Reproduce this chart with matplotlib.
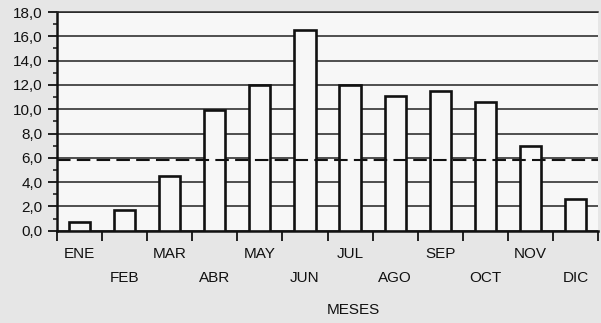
import matplotlib
matplotlib.use("Agg")
import matplotlib.pyplot as plt
from matplotlib.ticker import FixedLocator, MultipleLocator, FuncFormatter

months = ["ENE", "FEB", "MAR", "ABR", "MAY", "JUN", "JUL", "AGO", "SEP", "OCT", "NOV", "DIC"]
values = [0.7, 1.7, 4.5, 9.9, 12.0, 16.5, 12.0, 11.1, 11.5, 10.6, 7.0, 2.6]
reference_level = 5.8
y_ticks = [0, 2, 4, 6, 8, 10, 12, 14, 16, 18]
x_label = "MESES"

plt.rcParams['font.family'] = ['Liberation Sans', 'DejaVu Sans']

fig = plt.figure(figsize=(6.01, 3.23), dpi=100, facecolor='#e6e6e6')
ax = fig.add_axes([57/601, 92.3/323, 541/601, 218.7/323])
ax.set_facecolor('#f7f7f7')

x = list(range(len(months)))
ax.bar(x, values, width=0.47, color='#f7f7f7', edgecolor='#111111', linewidth=1.9, zorder=3)
ax.axhline(reference_level, color='#111111', linewidth=1.5, dashes=(6.5, 3), zorder=4)

ax.set_xlim(-0.5, len(months) - 0.5)
ax.set_ylim(0, 18)

# y axis
ax.yaxis.set_major_locator(FixedLocator(y_ticks))
ax.yaxis.set_minor_locator(MultipleLocator(1))
ax.yaxis.set_major_formatter(FuncFormatter(lambda v, p: f"{v:.1f}".replace('.', ',')))
ax.tick_params(axis='y', which='major', length=6.5, width=1.3, pad=4, labelsize=11, colors='#111111')
ax.tick_params(axis='y', which='minor', length=3, width=1.1, colors='#111111')
ax.grid(axis='y', which='major', color='#222222', linewidth=1.1, zorder=1)

# x axis: boundary ticks (major), labels at centers (minor)
ax.xaxis.set_major_locator(FixedLocator([i - 0.5 for i in range(len(months) + 1)]))
ax.xaxis.set_major_formatter(FuncFormatter(lambda v, p: ""))
ax.xaxis.set_minor_locator(FixedLocator(x))
ax.set_xticklabels(months, minor=True)
ax.tick_params(axis='x', which='major', length=7.5, width=1.3, colors='#111111')
ax.tick_params(axis='x', which='minor', length=0, labelsize=11, colors='#111111')
for i, t in enumerate(ax.xaxis.get_minor_ticks()):
    t.set_pad(12 if i % 2 == 0 else 29)

ax.set_xlabel(x_label, fontsize=11, color='#111111')
ax.xaxis.set_label_coords(0.547, -0.363)
ax.xaxis.label.set_va('center')

for s in ['left', 'bottom']:
    ax.spines[s].set_linewidth(1.8)
    ax.spines[s].set_color('#111111')
ax.spines['top'].set_linewidth(1.1)
ax.spines['top'].set_color('#222222')
ax.spines['right'].set_visible(False)

fig.savefig('out.png', dpi=100, facecolor=fig.get_facecolor())
